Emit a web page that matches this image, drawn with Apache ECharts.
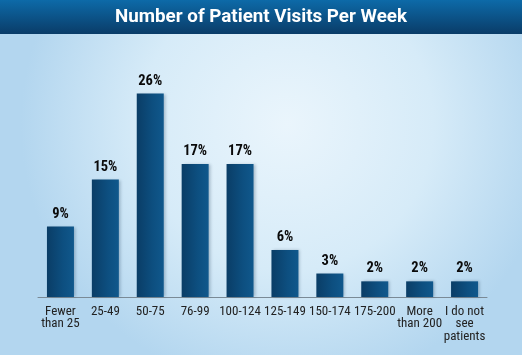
<!DOCTYPE html>
<html>
<head>
<meta charset="utf-8">
<script src="https://cdn.jsdelivr.net/npm/echarts@6/dist/echarts.min.js"></script>
<style>
html,body{margin:0;padding:0;}
#c{width:522px;height:355px;}
</style>
</head>
<body>
<div id="c"></div>
<script>
const titleText = 'Number of Patient Visits Per Week';
const categories = ['Fewer\nthan 25','25-49','50-75','76-99','100-124','125-149','150-174','175-200','More\nthan 200','I do not\nsee\npatients'];
const values = [9, 15, 26, 17, 17, 6, 3, 2, 2, 2];

const FONT = '"Roboto Condensed", "Liberation Sans Narrow", Roboto, sans-serif';
const chart = echarts.init(document.getElementById('c'));
chart.setOption({
  backgroundColor: new echarts.graphic.RadialGradient(0.55, 0.35, 0.75, [
    {offset: 0, color: '#eaf5fc'},
    {offset: 0.55, color: '#d6ebf8'},
    {offset: 1, color: '#b3d6ef'}
  ]),
  graphic: [
    {
      type: 'rect', left: 0, top: 0, z: 0,
      shape: {width: 522, height: 34},
      style: {fill: new echarts.graphic.LinearGradient(0, 0, 0, 1, [
        {offset: 0, color: '#0d6aa8'},
        {offset: 1, color: '#0a3c68'}
      ])}
    },
    {
      type: 'text', left: 'center', top: 7.5, z: 1,
      style: {text: titleText, fill: '#ffffff', font: 'bold 18.8px Roboto, "Liberation Sans", sans-serif'}
    }
  ],
  grid: {left: 38, right: 35, top: 93.5, bottom: 58, containLabel: false},
  xAxis: {
    type: 'category',
    data: categories,
    axisLine: {show: true, lineStyle: {color: '#7a8a96', width: 1}},
    axisTick: {show: false},
    axisLabel: {
      interval: 0, color: '#222222', fontFamily: FONT, fontSize: 13,
      lineHeight: 12.5, margin: 8
    }
  },
  yAxis: {
    type: 'value', min: 0, max: 26,
    show: false,
    splitLine: {show: false}
  },
  series: [{
    type: 'bar',
    data: values,
    barWidth: 27,
    itemStyle: {
      color: new echarts.graphic.LinearGradient(0, 0, 1, 0, [
        {offset: 0, color: '#0a3d66'},
        {offset: 0.6, color: '#0d4f80'},
        {offset: 1, color: '#10588c'}
      ]),
      shadowColor: 'rgba(0,30,60,0.25)',
      shadowBlur: 3,
      shadowOffsetX: 2
    },
    label: {
      show: true, position: 'top', distance: 5,
      formatter: '{c}%',
      color: '#0a0a0a', fontFamily: FONT, fontWeight: 'bold', fontSize: 14.5
    }
  }]
});
</script>
</body>
</html>
